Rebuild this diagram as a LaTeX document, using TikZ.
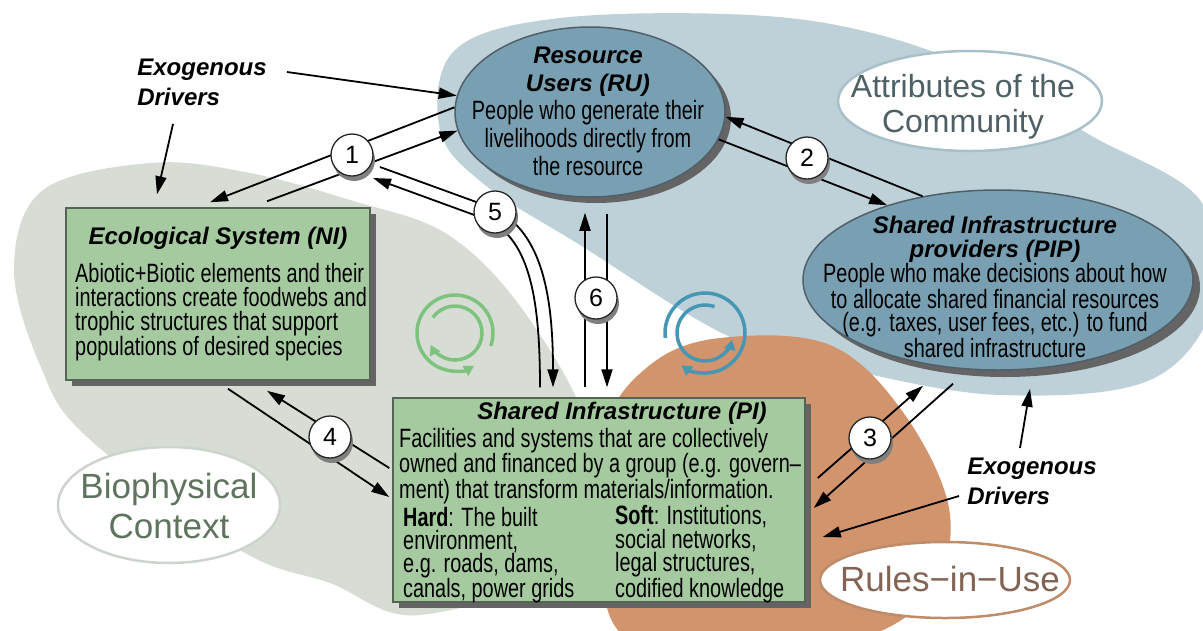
\documentclass[tikz,border=0pt]{standalone}
\usepackage{fontspec}
\setmainfont{Liberation Sans}
\newfontfamily\condfont[FakeStretch=0.75]{Liberation Sans}
\usetikzlibrary{shapes.geometric,arrows.meta,calc}
\definecolor{bioG}{RGB}{215,221,213}
\definecolor{comB}{RGB}{190,209,217}
\definecolor{ruleO}{RGB}{209,148,108}
\definecolor{ruFill}{RGB}{121,160,178}
\definecolor{ruEdge}{RGB}{80,95,105}
\definecolor{boxG}{RGB}{165,202,160}
\definecolor{boxEdge}{RGB}{85,100,85}
\definecolor{shadowC}{RGB}{100,100,100}
\definecolor{bioEdge}{RGB}{205,212,205}
\definecolor{bioText}{RGB}{95,115,95}
\definecolor{comEdge}{RGB}{168,192,202}
\definecolor{comText}{RGB}{78,96,102}
\definecolor{ruleEdge}{RGB}{190,140,105}
\definecolor{ruleText}{RGB}{130,100,85}
\definecolor{cycG}{RGB}{125,195,125}
\definecolor{cycB}{RGB}{70,150,182}
\newcommand{\mytitlef}{\normalfont\fontsize{24}{28}\selectfont\bfseries\itshape}
\begin{document}
\begin{tikzpicture}[x=1pt,y=-1pt,
  arr/.style={line width=1.8pt,-{Triangle[length=18pt,width=11pt]}},
  ln/.style={line width=1.8pt},
  num/.style={circle,draw=black!85,line width=1.3pt,fill=white,minimum size=42pt,inner sep=0pt,font=\fontsize{25}{25}\selectfont},
  numsh/.style={circle,fill=black!50,minimum size=42pt,inner sep=0pt},
  ttl/.style={font=\mytitlef,inner sep=0pt},
  bodytxt/.style={font=\condfont\fontsize{26.5}{24}\selectfont,inner sep=0pt},
  exo/.style={font=\normalfont\fontsize{24}{30}\selectfont\bfseries\itshape,align=left,inner sep=0pt},
  cycarrow/.style={line width=3.5pt,-{Triangle[length=10pt,width=11pt]}},
  blobell/.style={ellipse,fill=white,line width=2.5pt,inner sep=0pt},
  bluell/.style={ellipse,fill=ruFill,draw=ruEdge,line width=1.5pt,inner sep=0pt},
  shell/.style={ellipse,fill=shadowC,inner sep=0pt},
  greenbox/.style={rectangle,fill=boxG,draw=boxEdge,line width=1.5pt,inner sep=0pt},
  shbox/.style={rectangle,fill=shadowC,inner sep=0pt}
]
\useasboundingbox (0,0) rectangle (1203,630);
\begin{scope}
\clip (0,0) rectangle (1203,630);
\fill[bioG] plot[smooth cycle,tension=0.6] coordinates {(14,268) (43,190) (150,163) (245,172) (350,200) (450,236) (530,320) (590,440) (570,560) (420,615) (330,583) (240,550) (87,437) (40,365)};
\fill[comB] plot[smooth cycle,tension=0.6] coordinates {(440,130) (455,50) (560,18) (750,15) (880,35) (1000,80) (1090,135) (1200,200) (1215,300) (1150,380) (1000,395) (850,370) (730,337) (580,245) (485,185)};
\fill[ruleO] plot[smooth cycle,tension=0.6] coordinates {(605,430) (650,365) (720,338) (830,345) (905,415) (950,515) (925,600) (830,645) (640,645) (600,560)};
\end{scope}
% context ellipses
\node[blobell,draw=bioEdge,minimum width=222pt,minimum height=116pt] (bioell) at (169,505) {};
\node[font=\fontsize{35}{40}\selectfont,text=bioText,align=center,inner sep=0pt] (biotext) at (169,506) {Biophysical\\Context};
\node[blobell,draw=comEdge,minimum width=264pt,minimum height=100pt] (comell) at (970,101) {};
\node[font=\fontsize{32}{35}\selectfont,text=comText,align=center,inner sep=0pt] (comtext) at (963,107) {Attributes of the\\Community};
\node[blobell,draw=ruleEdge,minimum width=250pt,minimum height=76pt] (ruleell) at (945,580) {};
\node[font=\fontsize{35}{40}\selectfont,text=ruleText,inner sep=0pt] (ruletext) at (950,579) {Rules−in−Use};
% cycles
\draw[cycarrow,cycG] (455,333) ++(20:38) arc[start angle=20,end angle=-300,radius=38];
\draw[cycarrow,cycG] (455,333) ++(-145:27) arc[start angle=-145,end angle=154,radius=27];
\draw[cycarrow,cycB] (705,333) ++(-187:40) arc[start angle=-187,end angle=126,radius=40];
\draw[cycarrow,cycB] (705,333) ++(-70:28) arc[start angle=-70,end angle=-346,radius=28];
% main nodes
\node[shell,minimum width=270pt,minimum height=170pt] (rush) at (596,118) {};
\node[bluell,minimum width=270pt,minimum height=170pt] (ru) at (590,112) {};
\node[shell,minimum width=390pt,minimum height=180pt] (pipsh) at (1005,287) {};
\node[bluell,minimum width=390pt,minimum height=180pt] (pip) at (998,280) {};
\node[shbox,minimum width=304pt,minimum height=172pt] (ecosh) at (224,300) {};
\node[greenbox,minimum width=304pt,minimum height=172pt] (eco) at (218,294) {};
\node[shbox,minimum width=412pt,minimum height=204pt] (pish) at (605,506) {};
\node[greenbox,minimum width=412pt,minimum height=204pt] (pi) at (599,500) {};
% texts
\node[bodytxt,align=center,font=\condfont\fontsize{26.5}{28}\selectfont] (rutext) at (588,111) {{\mytitlef Resource}\\{\mytitlef Users (RU)}\\People who generate their\\livelihoods directly from\\the resource};
\node[bodytxt,align=center,font=\condfont\fontsize{26.5}{23.5}\selectfont] (piptext) at (995,287) {{\mytitlef Shared Infrastructure}\\{\mytitlef providers (PIP)}\\People who make decisions about how\\to allocate shared financial resources\\(e.g. taxes, user fees, etc.) to fund\\shared infrastructure};
\node[ttl] (ecotitle) at (218,238) {Ecological System (NI)};
\node[bodytxt,align=left,anchor=west] (ecobody) at (75,312) {Abiotic+Biotic elements and their\\interactions create foodwebs and\\trophic structures that support\\populations of desired species};
\node[ttl] (pititle) at (622,413) {Shared Infrastructure (PI)};
\node[bodytxt,align=left,anchor=west,font=\condfont\fontsize{26.5}{23}\selectfont] (pibody) at (399,466) {Facilities and systems that are collectively\\owned and financed by a group (e.g. govern–\\ment) that transform materials/information.};
\node[bodytxt,align=left,anchor=west,font=\condfont\fontsize{26.5}{23}\selectfont] (hard) at (403,555) {\textbf{Hard}: The built\\environment,\\e.g. roads, dams,\\canals, power grids};
\node[bodytxt,align=left,anchor=west,font=\condfont\fontsize{26.5}{22}\selectfont] (soft) at (615,554) {\textbf{Soft}: Institutions,\\social networks,\\legal structures,\\codified knowledge};
\node[exo] (exo1) at (202,82) {Exogenous\\Drivers};
\node[exo] (exo2) at (1032,481) {Exogenous\\Drivers};
% arrows
\draw[arr] (ru.178) -- ([xshift=-8pt,yshift=5pt]eco.north);
\draw[arr] ([xshift=49pt,yshift=6pt]eco.north) -- (ru.188);
\draw[arr] (pip.132) -- (ru.358);
\draw[arr] (ru.348) -- (pip.146);
\draw[arr] ([xshift=12pt,yshift=22pt]pi.east) -- ([xshift=-75pt,yshift=-15pt]pip.south);
\draw[arr] ([xshift=-45pt,yshift=-13pt]pip.south) -- ([xshift=8pt,yshift=-8pt]pi.east);
\draw[arr] ([xshift=10pt,yshift=-8pt]eco.south) -- ([xshift=-3pt,yshift=3pt]pi.west);
\draw[arr] ([xshift=-3pt,yshift=32pt]pi.west) -- ([xshift=49pt,yshift=-10pt]eco.south);
\draw[arr] ([xshift=-14pt,yshift=10pt]pi.north) -- ([xshift=-5pt,yshift=-15pt]ru.south);
\draw[arr] ([xshift=17pt,yshift=-16pt]ru.south) -- ([xshift=8pt,yshift=10pt]pi.north);
\draw[arr] ([xshift=85pt,yshift=10pt]exo1.center) -- (ru.173);
\draw[arr] ([xshift=-29pt,yshift=-42pt]exo1.center) -- ([xshift=-61pt,yshift=13pt]eco.north);
\draw[arr] ([xshift=-12pt,yshift=33pt]exo2.center) -- ([xshift=32pt,yshift=-18pt]pip.south);
\draw[arr] ([xshift=-73pt,yshift=-15pt]exo2.center) -- ([xshift=17pt,yshift=-37pt]pi.east);
% link 5 (from near circle 1 to PI)
\node[numsh] (c1sh) at (354,160) {};
\node[num] (c1) at (352,155) {1};
\draw[arr] ([xshift=28pt,yshift=-12pt]c1.center) -- (490,207) .. controls (540,228) and (553,290) .. ([xshift=-46pt,yshift=10pt]pi.north);
\draw[arr] ([xshift=-59pt,yshift=10pt]pi.north) .. controls (540,300) and (530,240) .. (488,220) -- ([xshift=21pt,yshift=-23pt]c1.center);
% numbered circles
\node[numsh] (c2sh) at (809,163) {};
\node[num] (c2) at (807,158) {2};
\node[numsh] (c3sh) at (872,443) {};
\node[num] (c3) at (870,438) {3};
\node[numsh] (c4sh) at (332,442) {};
\node[num] (c4) at (330,437) {4};
\node[numsh] (c5sh) at (497,217) {};
\node[num] (c5) at (495,212) {5};
\node[numsh] (c6sh) at (598,303) {};
\node[num] (c6) at (596,298) {6};
\end{tikzpicture}
\end{document}
